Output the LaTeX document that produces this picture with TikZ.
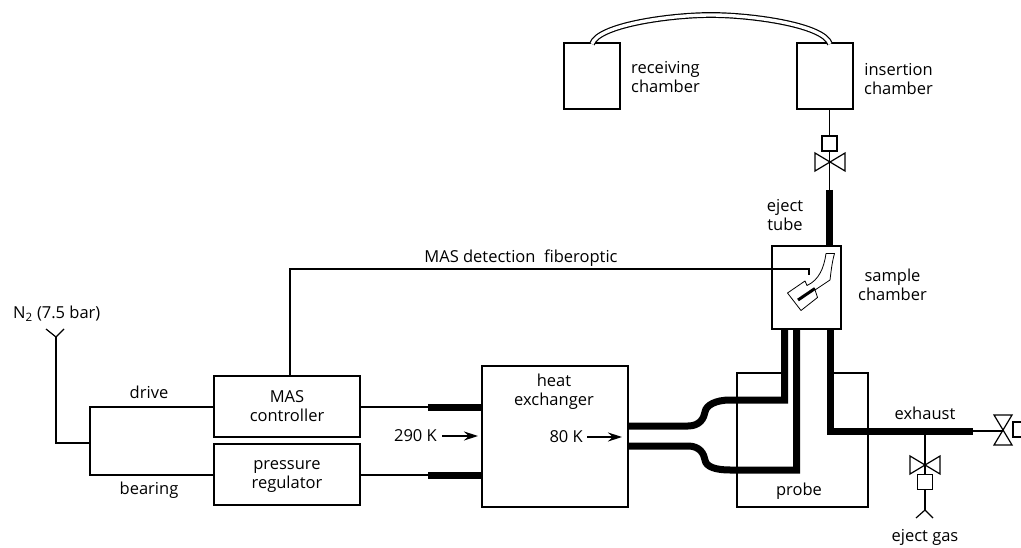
\documentclass[tikz,border=0pt]{standalone}
\usepackage{fontspec}
\setmainfont{Open Sans}
\usetikzlibrary{arrows.meta}
\tikzset{
   box/.style={draw,line width=1.2pt,inner sep=0pt,align=center,font=\fontsize{16.5}{19}\selectfont},
   wire/.style={line width=1.2pt},
   fat/.style={line width=7pt},
   thin/.style={line width=0.8pt},
   lbl/.style={inner sep=0pt,align=center,font=\fontsize{16.5}{19}\selectfont},
   vsq/.style={draw,line width=1.2pt,inner sep=0pt,minimum size=15pt,fill=white},
   tip/.style={line width=1.2pt,-{Stealth[length=14pt,width=9pt]}},
   valve/.pic={\draw[line width=1.2pt,line join=miter] (-15,-9) -- (15,9) -- (15,-9) -- (-15,9) -- cycle;}
}
\begin{document}
\begin{tikzpicture}[x=1pt,y=-1pt]
\useasboundingbox (0,0) rectangle (1021,548);
% chambers
\node[box,minimum width=56pt,minimum height=66pt] (receiving) at (592,76) {};
\node[box,minimum width=56pt,minimum height=66pt] (insertion) at (825,76) {};
\draw[line width=1.2pt,double,double distance=3.4pt] (592,44) .. controls (598,25) and (670,15) .. (711,15) .. controls (752,15) and (824,25) .. (830,44);
\node[lbl,anchor=west] (receivinglbl) at (631,77) {receiving\\chamber};
\node[lbl,anchor=west] (insertionlbl) at (864,79) {insertion\\chamber};
% eject tube
\node[box,minimum width=69pt,minimum height=83pt] (sample) at (806.5,287.5) {};
\coordinate (tubetop) at (829.5,190);
\draw[wire] (829.5,109) -- (tubetop);
\node[vsq] (topsq) at (829.5,143.5) {};
\pic at (830,162) {valve};
\draw[fat] (tubetop) -- (829.5,246);
\node[lbl] (ejectlbl) at (785,215) {eject\\tube};
\node[lbl,anchor=west] (samplelbl) at (858,285) {sample\\chamber};
% rotor
\draw[thin,line join=round] (787.5,293) -- (805,281) -- (807,285.5) .. controls (819,280) and (824,268) .. (826,253.5) -- (834.5,253.5) .. controls (832,262) and (831,272) .. (830,280) -- (815,290) -- (817.5,297.5) -- (801,310.5) -- cycle;
\draw[line width=3pt] (798,300) -- (815,288.5);
% left side
\node[box,minimum width=146pt,minimum height=61pt] (mas) at (287,406.5) {MAS\\controller};
\node[box,minimum width=146pt,minimum height=61pt] (regulator) at (287,474.5) {};
\node[lbl] (regulatorlbl) at (287,476.5) {pressure\\regulator};
\node[box,minimum width=146pt,minimum height=141pt] (exchanger) at (555,436.5) {};
\node[lbl] (exchangerlbl) at (554,392) {heat\\exchanger};
\coordinate (split) at (90,443);
\coordinate (inlet) at (56,337);
\draw[wire] (46,329) -- (inlet) -- (64,329);
\draw[wire] (inlet) -- (56,443) -- (split);
\draw[wire] (mas.west |- 0,407) -| (split) |- (regulator.west |- 0,475);
\node[lbl,anchor=west] (n2lbl) at (13,314) {N\textsubscript{2} (7.5 bar)};
\node[lbl] (drivelbl) at (149,392) {drive};
\node[lbl] (bearinglbl) at (149,490) {bearing};
% fiberoptic
\draw[wire] (mas.north -| 290,0) |- (809,269) -- (809,275);
\node[lbl] (fiberlbl) at (521,258) {MAS detection\ \ fiberoptic};
% warm side
\draw[wire] (mas.east |- 0,407) -- (428,407);
\draw[wire] (regulator.east |- 0,475) -- (428,475);
\draw[fat] (428,407) -- (exchanger.west |- 0,407);
\draw[fat] (428,475) -- (exchanger.west |- 0,475);
\node[lbl,anchor=east] (warmlbl) at (437,436) {290 K};
\coordinate (warmtip) at (478,436);
\draw[tip] (442,436) -- (warmtip);
\node[lbl,anchor=east] (coldlbl) at (583,437) {80 K};
\coordinate (coldtip) at (622,437);
\draw[tip] (587,437) -- (coldtip);
% probe
\draw[line width=1.2pt] (785,373) -| (737,507) -| (868,373) -- (830,373);
\node[lbl] (probelbl) at (799,491) {probe};
\draw[fat,line join=miter] (exchanger.east |- 0,426) -- (688,426) .. controls (700,426) and (704,418) .. (705,412) .. controls (706,405) and (716,400) .. (730,400) -- (784.5,400) -- (784.5,329);
\draw[fat,line join=miter] (exchanger.east |- 0,446) -- (688,446) .. controls (700,446) and (704,454) .. (705,460) .. controls (706,467) and (716,470) .. (730,470) -- (796.5,470) -- (796.5,329);
% exhaust
\coordinate (fatend) at (973,431);
\draw[fat,line join=miter] (830,329) |- (fatend);
\draw[wire] (fatend) -- (1003,431);
\pic[rotate=90] at (1003,430) {valve};
\draw[wire] (1021,422) -- (1013,422) -- (1013,437) -- (1021,437);
\node[lbl] (exhaustlbl) at (925,413) {exhaust};
\coordinate (gas) at (925,510);
\draw[wire] (925,431) -- (gas);
\pic at (925,465) {valve};
\node[vsq] (gassq) at (925,482) {};
\draw[wire] (916,518) -- (gas) -- (933,518);
\node[lbl] (gaslbl) at (925,537) {eject gas};
\end{tikzpicture}
\end{document}
